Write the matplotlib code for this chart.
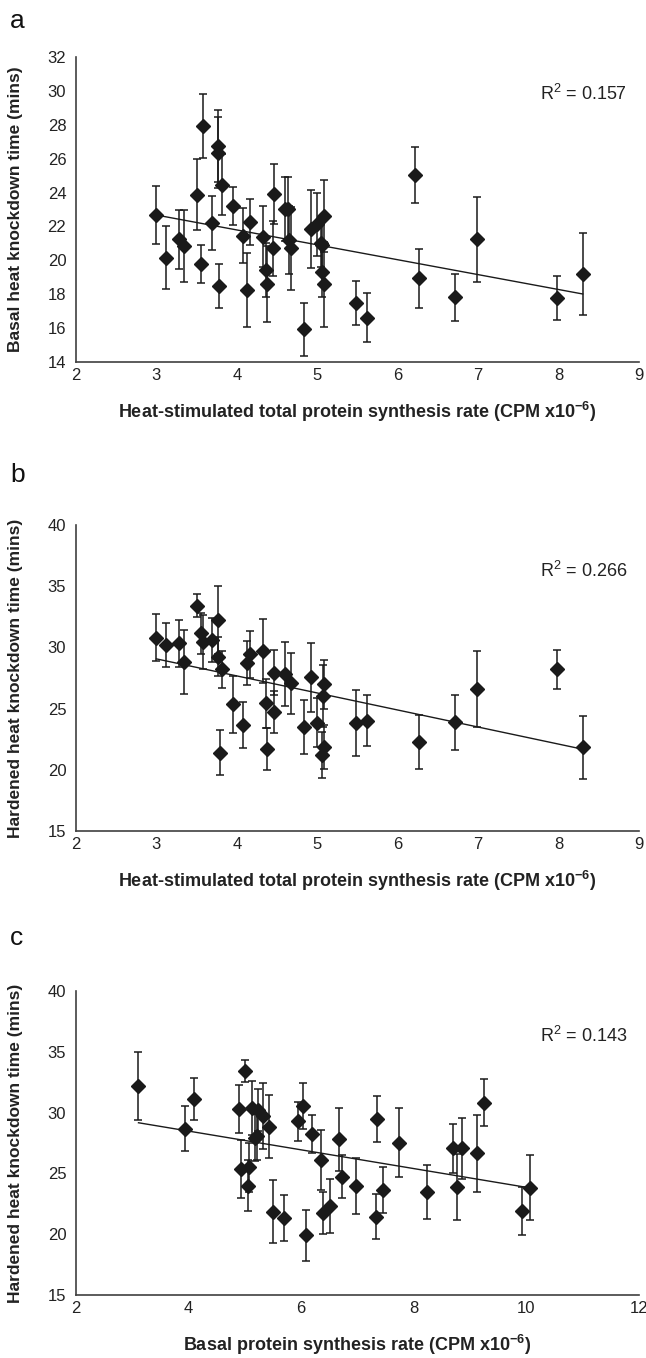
import numpy as np
import matplotlib
matplotlib.use("Agg")
import matplotlib.pyplot as plt

plt.rcParams['font.family'] = ['Liberation Sans', 'DejaVu Sans']
plt.rcParams['mathtext.fontset'] = 'custom'
plt.rcParams['mathtext.rm'] = 'Liberation Sans'
plt.rcParams['mathtext.bf'] = 'Liberation Sans:bold'
plt.rcParams['mathtext.default'] = 'regular'

# panel a: heat-stimulated synthesis vs basal knockdown
a_x = [3.00, 3.12, 3.28, 3.34, 3.50, 3.58, 3.55, 3.69, 3.76, 3.76, 3.82, 3.78,
       3.95, 4.08, 4.16, 4.13, 4.32, 4.36, 4.37, 4.46, 4.45, 4.60, 4.63, 4.65,
       4.67, 4.83, 4.92, 5.00, 5.08, 5.05, 5.06, 5.06, 5.08, 5.48, 5.62, 6.22,
       6.27, 6.71, 6.99, 7.98, 8.30]
a_y = [22.66, 20.16, 21.24, 20.85, 23.88, 27.93, 19.78, 22.19, 26.75, 26.36, 24.45, 18.50,
       23.20, 21.46, 22.25, 18.25, 21.40, 19.43, 18.59, 23.92, 20.71, 23.03, 23.00, 21.20,
       20.71, 15.93, 21.85, 22.13, 22.62, 21.00, 20.90, 19.33, 18.59, 17.46, 16.62, 25.04,
       18.94, 17.82, 21.24, 17.76, 19.20]
a_err = [1.70, 1.85, 1.75, 2.10, 2.10, 1.90, 1.10, 1.60, 2.10, 2.10, 1.80, 1.30,
         1.10, 1.60, 1.35, 2.20, 1.80, 1.60, 2.25, 1.77, 1.63, 1.87, 1.90, 2.00,
         2.45, 1.57, 2.30, 1.85, 2.10, 1.40, 1.50, 1.50, 2.50, 1.30, 1.44, 1.63,
         1.73, 1.40, 2.50, 1.30, 2.40]

# panel b: heat-stimulated synthesis vs hardened knockdown
b_x = [3.00, 3.12, 3.28, 3.34, 3.50, 3.56, 3.58, 3.69, 3.76, 3.76, 3.82, 3.79,
       3.95, 4.08, 4.13, 4.16, 4.32, 4.36, 4.38, 4.46, 4.46, 4.60, 4.67, 4.84,
       4.92, 5.00, 5.08, 5.07, 5.08, 5.06, 5.48, 5.62, 6.27, 6.71, 6.99, 7.98, 8.30]
b_y = [30.79, 30.20, 30.33, 28.83, 33.41, 31.15, 30.47, 30.60, 32.24, 29.24, 28.21, 21.40,
       25.35, 23.66, 28.70, 29.43, 29.73, 25.43, 21.72, 27.94, 24.72, 27.83, 27.07, 23.50,
       27.55, 23.85, 27.00, 26.03, 21.89, 21.21, 23.80, 24.02, 22.25, 23.90, 26.63, 28.21, 21.84]
b_err = [1.94, 1.80, 1.90, 2.60, 0.93, 1.70, 2.20, 1.80, 2.80, 1.60, 1.50, 1.85,
         2.35, 1.85, 1.80, 1.90, 2.60, 2.00, 1.72, 1.85, 1.74, 2.60, 2.50, 2.20,
         2.85, 2.00, 2.00, 2.50, 1.80, 1.90, 2.70, 2.10, 2.20, 2.25, 3.10, 1.58, 2.58]

# panel c: basal synthesis vs hardened knockdown
c_x = [3.11, 3.94, 4.10, 4.90, 5.00, 5.12, 5.23, 5.33, 5.42, 5.18, 5.21, 4.93,
       5.07, 5.05, 5.95, 6.04, 6.20, 6.35, 6.68, 6.72, 6.97, 5.50, 5.69, 6.39,
       6.51, 6.09, 7.34, 7.32, 7.45, 7.73, 8.24, 8.69, 8.76, 8.85, 9.12, 9.25,
       9.92, 10.06]
c_y = [32.19, 28.69, 31.13, 30.33, 33.40, 30.39, 30.20, 29.70, 28.83, 27.95, 28.10, 25.35,
       25.49, 23.98, 29.29, 30.55, 28.22, 26.09, 27.81, 24.72, 23.95, 21.84, 21.30, 21.76,
       22.30, 19.90, 29.46, 21.43, 23.62, 27.54, 23.49, 27.05, 23.90, 27.05, 26.64, 30.83,
       21.90, 23.84]
c_err = [2.80, 1.84, 1.72, 1.97, 0.90, 2.20, 1.70, 2.70, 2.60, 1.90, 2.00, 2.40,
         2.00, 2.10, 1.60, 1.90, 1.56, 2.46, 2.60, 1.78, 2.28, 2.60, 1.90, 1.72,
         2.20, 2.10, 1.90, 1.84, 1.87, 2.85, 2.20, 2.00, 2.70, 2.50, 3.15, 1.90,
         2.00, 2.66]

r2_labels = ['0.157', '0.266', '0.143']
letters = ['a', 'b', 'c']
x_labels = [r'Heat-stimulated total protein synthesis rate (CPM x10$\mathbf{^{-6}}$)',
            r'Heat-stimulated total protein synthesis rate (CPM x10$\mathbf{^{-6}}$)',
            r'Basal protein synthesis rate (CPM x10$\mathbf{^{-6}}$)']
y_labels = ['Basal heat knockdown time (mins)',
            'Hardened heat knockdown time (mins)',
            'Hardened heat knockdown time (mins)']
x_lims = [(2, 9), (2, 9), (2, 12)]
x_ticks = [np.arange(2, 10, 1), np.arange(2, 10, 1), np.arange(2, 13, 2)]
y_lims = [(14, 32), (15, 40), (15, 40)]
y_ticks = [np.arange(14, 33, 2), np.arange(15, 41, 5), np.arange(15, 41, 5)]

W, H = 646, 1358
fig = plt.figure(figsize=(W / 100, H / 100), dpi=100)

# plot areas in pixel coords: left, top, right, bottom
boxes = [(76, 57, 639, 362), (76, 525, 639, 831), (76, 991, 639, 1295)]
letter_y = [28, 482, 945]
r2_y = [100, 577, 1042]

data = [(a_x, a_y, a_err), (b_x, b_y, b_err), (c_x, c_y, c_err)]
dark = '#1a1a1a'

for i, (xs, ys, es) in enumerate(data):
    l, t, r, b = boxes[i]
    ax = fig.add_axes([l / W, 1 - b / H, (r - l) / W, (b - t) / H])
    xs = np.array(xs)
    ys = np.array(ys)
    ax.errorbar(xs, ys, yerr=es, fmt='D', color=dark, ecolor=dark,
                markersize=7, elinewidth=1.1, capsize=3.2, capthick=1.1, zorder=3)

    # linear trend line
    k, c0 = np.polyfit(xs, ys, 1)
    xx = np.array([xs.min(), xs.max()])
    ax.plot(xx, k * xx + c0, color=dark, linewidth=1.0, zorder=2)

    ax.set_xlim(*x_lims[i])
    ax.set_ylim(*y_lims[i])
    ax.set_xticks(x_ticks[i])
    ax.set_yticks(y_ticks[i])
    for side in ['top', 'right']:
        ax.spines[side].set_visible(False)
    for side in ['left', 'bottom']:
        ax.spines[side].set_color('#404040')
        ax.spines[side].set_linewidth(1.2)
    ax.tick_params(axis='both', length=0, labelsize=12, labelcolor='#222222')
    ax.tick_params(axis='y', pad=7)
    ax.tick_params(axis='x', pad=4.5)

    ax.set_xlabel(x_labels[i], fontsize=13, fontweight='bold', color='#222222', labelpad=12)
    ax.set_ylabel(y_labels[i], fontsize=12.5, fontweight='bold', color='#222222')
    ax.yaxis.set_label_coords(-0.094, 0.5)

    fig.text(10 / W, 1 - letter_y[i] / H, letters[i], fontsize=19,
             va='baseline', ha='left', color='#111111')
    fig.text(540 / W, 1 - r2_y[i] / H, 'R$^2$ = ' + r2_labels[i], fontsize=13,
             va='baseline', ha='left', color='#222222')

fig.savefig('out.png', dpi=100)
